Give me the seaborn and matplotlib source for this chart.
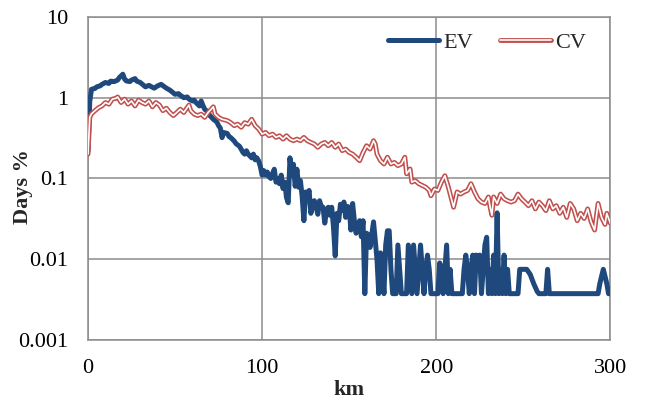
import numpy as np
import pandas as pd
import seaborn as sns
import matplotlib
matplotlib.use("Agg")
import matplotlib.pyplot as plt
from matplotlib import font_manager
from matplotlib.legend_handler import HandlerTuple
from matplotlib.ticker import FixedLocator, FixedFormatter, NullLocator

# ---- data ----
ev_km = [0, 1, 2, 4, 5, 7, 8, 10, 12, 13, 15, 17, 18, 20, 21, 22, 24, 25, 27, 28,
         30, 32, 33, 35, 36, 38, 40, 42, 44, 45, 47, 48, 50, 52, 53, 55, 57, 58, 60, 61,
         62, 64, 65, 66, 67, 69, 70, 72, 74, 75, 76, 77, 78, 80, 81, 82, 84, 85, 87, 88,
         89, 90, 91, 92, 93, 94, 95, 96, 97, 98, 99, 100, 101, 102, 103, 104, 105, 106, 107, 108,
         109, 110, 111, 112, 113, 114, 115, 116, 117, 118, 119, 120, 121, 122, 123, 124, 125, 126, 127, 128,
         129, 130, 131, 132, 133, 134, 135, 136, 137, 138, 139, 140, 141, 142, 143, 144, 145, 146, 147, 148,
         149, 150, 151, 152, 153, 154, 155, 156, 157, 158, 159, 160, 161, 162, 163, 164, 165, 166, 167, 168,
         169, 170, 171, 172, 173, 174, 175, 176, 177, 178, 179, 180, 181, 182, 183, 184, 185, 186, 187, 188,
         189, 190, 191, 192, 193, 194, 195, 196, 197, 198, 199, 200, 201, 202, 203, 204, 205, 206, 207, 208,
         209, 210, 212, 214, 215, 216, 217, 218, 219, 220, 221, 222, 223, 224, 225, 226, 227, 228, 229, 230,
         231, 232, 233, 234, 235, 236, 237, 238, 239, 240, 241, 242, 244, 246, 247, 248, 250, 252, 254, 256,
         258, 259, 261, 263, 264, 265, 268, 272, 276, 280, 284, 288, 292, 293, 294, 296, 298, 299, 300]
ev_val = [0.22, 0.9, 1.27, 1.3, 1.36, 1.4, 1.46, 1.54, 1.5, 1.6, 1.58, 1.65, 1.77, 1.95, 1.7, 1.61, 1.58, 1.65, 1.72, 1.6,
          1.54, 1.42, 1.36, 1.42, 1.38, 1.31, 1.4, 1.46, 1.36, 1.31, 1.24, 1.19, 1.1, 1.12, 1.07, 1.0, 1.02, 0.96, 0.91, 0.93,
          0.87, 0.79, 0.91, 0.8, 0.72, 0.66, 0.6, 0.54, 0.5, 0.45, 0.42, 0.32, 0.37, 0.36, 0.33, 0.32, 0.29, 0.27, 0.25, 0.23,
          0.21, 0.2, 0.22, 0.2, 0.19, 0.18, 0.2, 0.17, 0.18, 0.165, 0.14, 0.11, 0.125, 0.11, 0.12, 0.105, 0.1, 0.115, 0.13, 0.09,
          0.1, 0.086, 0.11, 0.075, 0.09, 0.058, 0.05, 0.18, 0.11, 0.15, 0.08, 0.13, 0.078, 0.094, 0.06, 0.03, 0.068, 0.06, 0.071, 0.037,
          0.045, 0.053, 0.045, 0.036, 0.053, 0.045, 0.044, 0.028, 0.04, 0.044, 0.035, 0.044, 0.025, 0.011, 0.037, 0.03, 0.048, 0.04, 0.051, 0.033,
          0.045, 0.044, 0.023, 0.049, 0.03, 0.021, 0.026, 0.03, 0.019, 0.03, 0.00375, 0.021, 0.02, 0.014, 0.02, 0.029, 0.017, 0.01, 0.00375, 0.012,
          0.0075, 0.00375, 0.015, 0.0225, 0.0225, 0.0075, 0.00375, 0.00375, 0.00375, 0.015, 0.0075, 0.00375, 0.00375, 0.00375, 0.00375, 0.015, 0.0075, 0.00375, 0.015, 0.0075,
          0.00375, 0.0075, 0.015, 0.0075, 0.00375, 0.0075, 0.01125, 0.0075, 0.00375, 0.00375, 0.00375, 0.00375, 0.00375, 0.009, 0.0075, 0.00375, 0.0075, 0.015, 0.00375, 0.0075,
          0.00375, 0.00375, 0.00375, 0.00375, 0.00375, 0.0075, 0.01125, 0.0075, 0.00375, 0.0075, 0.01125, 0.00375, 0.01125, 0.0075, 0.01125, 0.00375, 0.0075, 0.015, 0.0187, 0.00375,
          0.0075, 0.00375, 0.01125, 0.00375, 0.0375, 0.00375, 0.0075, 0.00375, 0.01125, 0.00375, 0.0075, 0.00375, 0.00375, 0.00375, 0.00375, 0.0075, 0.0075, 0.0075, 0.0065, 0.005,
          0.004, 0.00375, 0.00375, 0.00375, 0.0075, 0.00375, 0.00375, 0.00375, 0.00375, 0.00375, 0.00375, 0.00375, 0.00375, 0.00375, 0.005, 0.0075, 0.005, 0.00375, 0.00375]

cv_km = [0, 1, 2, 4, 6, 8, 10, 12, 14, 16, 17, 19, 21, 23, 25, 27, 29, 31, 33, 35,
         37, 39, 41, 43, 45, 47, 49, 51, 53, 55, 58, 59, 61, 63, 65, 67, 69, 72, 73, 75,
         77, 80, 82, 84, 86, 88, 90, 92, 94, 96, 98, 100, 102, 104, 106, 108, 110, 112, 114, 116,
         118, 120, 122, 124, 126, 128, 130, 132, 134, 136, 138, 140, 142, 144, 146, 148, 150, 152, 154, 156,
         158, 160, 162, 164, 165, 166, 168, 170, 172, 174, 176, 178, 180, 182, 183, 185, 186, 188, 190, 192,
         194, 196, 197, 199, 201, 203, 205, 207, 209, 210, 212, 214, 216, 218, 220, 222, 224, 226, 228, 230,
         231, 232, 233, 235, 237, 239, 241, 243, 245, 247, 249, 251, 253, 255, 257, 259, 261, 263, 265, 267,
         269, 271, 273, 275, 277, 279, 281, 283, 285, 287, 289, 291, 293, 295, 297, 298, 300]
cv_val = [0.2, 0.57, 0.63, 0.69, 0.75, 0.79, 0.87, 0.83, 0.96, 0.98, 1.02, 0.87, 0.96, 0.83, 0.91, 0.79, 0.93, 0.87, 0.83, 0.91,
          0.77, 0.87, 0.81, 0.69, 0.74, 0.655, 0.6, 0.655, 0.72, 0.655, 0.81, 0.69, 0.625, 0.6, 0.625, 0.57, 0.655, 0.77, 0.625, 0.57,
          0.54, 0.52, 0.49, 0.45, 0.47, 0.43, 0.49, 0.47, 0.54, 0.45, 0.41, 0.354, 0.371, 0.338, 0.354, 0.322, 0.338, 0.307, 0.338, 0.307,
          0.293, 0.307, 0.293, 0.322, 0.293, 0.279, 0.267, 0.243, 0.267, 0.279, 0.254, 0.279, 0.243, 0.267, 0.221, 0.231, 0.21, 0.2, 0.183, 0.166,
          0.21, 0.254, 0.231, 0.293, 0.267, 0.2, 0.166, 0.151, 0.183, 0.151, 0.158, 0.144, 0.151, 0.183, 0.114, 0.131, 0.09, 0.094, 0.086, 0.082,
          0.078, 0.071, 0.061, 0.074, 0.071, 0.09, 0.108, 0.078, 0.053, 0.044, 0.068, 0.064, 0.068, 0.071, 0.086, 0.068, 0.056, 0.051, 0.049, 0.059,
          0.044, 0.035, 0.059, 0.049, 0.064, 0.056, 0.053, 0.051, 0.053, 0.064, 0.056, 0.051, 0.046, 0.053, 0.042, 0.051, 0.046, 0.04, 0.053, 0.042,
          0.046, 0.037, 0.044, 0.033, 0.049, 0.042, 0.03, 0.037, 0.032, 0.042, 0.029, 0.023, 0.049, 0.033, 0.027, 0.037, 0.028]

x_ticks = [0, 100, 200, 300]
y_ticks = [0.001, 0.01, 0.1, 1, 10]
y_tick_labels = ["0.001", "0.01", "0.1", "1", "10"]

ev_df = pd.DataFrame({"km": ev_km, "val": ev_val})
cv_df = pd.DataFrame({"km": cv_km, "val": cv_val})

# ---- style ----
sns.set_style("white")


def pick_serif():
    names = {f.name for f in font_manager.fontManager.ttflist}
    for cand in ["Liberation Serif", "Times New Roman", "Nimbus Roman",
                 "Nimbus Roman No9 L", "TeX Gyre Termes", "Tinos", "FreeSerif"]:
        if cand in names:
            return cand
    for n in sorted(names):
        if "Liberation" in n and "Serif" in n:
            return n
    for n in sorted(names):
        if "Times" in n or "Roman" in n:
            return n
    return "DejaVu Serif"


SERIF = pick_serif()
plt.rcParams["font.family"] = [SERIF, "DejaVu Serif"]
plt.rcParams["font.size"] = 16

EV_COLOR = "#1F497D"
CV_COLOR = "#C0504D"
GRID = "#8C8C8C"

fig = plt.figure(figsize=(6.52, 4.01), dpi=100)
ax = fig.add_axes([0.135, 0.152, 0.801, 0.806])

sns.lineplot(data=ev_df, x="km", y="val", ax=ax, color=EV_COLOR, linewidth=3.6,
             solid_joinstyle="round", solid_capstyle="round", zorder=3)
sns.lineplot(data=cv_df, x="km", y="val", ax=ax, color=CV_COLOR, linewidth=3.5,
             solid_joinstyle="round", zorder=4)
sns.lineplot(data=cv_df, x="km", y="val", ax=ax, color="white", linewidth=1.2,
             solid_joinstyle="round", zorder=5)

ax.set_yscale("log")
ax.set_xlim(0, 300)
ax.set_ylim(0.001, 10)
ax.xaxis.set_major_locator(FixedLocator(x_ticks))
ax.yaxis.set_major_locator(FixedLocator(y_ticks))
ax.yaxis.set_major_formatter(FixedFormatter(y_tick_labels))
ax.yaxis.set_minor_locator(NullLocator())

ax.grid(True, color=GRID, linewidth=1.1, zorder=0)
ax.set_axisbelow(True)
for sp in ax.spines.values():
    sp.set_color(GRID)
    sp.set_linewidth(1.1)

ax.tick_params(axis="both", which="major", direction="out", length=4.5, width=1.1,
               color=GRID, labelsize=16, labelcolor="black")
ax.tick_params(axis="x", pad=9)
ax.tick_params(axis="y", pad=10)

ax.set_xlabel("km", fontsize=16, fontweight="bold")
ax.set_ylabel("Days %", fontsize=16, fontweight="bold")
ax.xaxis.set_label_coords(0.5, -0.124)
ax.yaxis.set_label_coords(-0.105, 0.474)

lines = ax.get_lines()
handles = [lines[0], (lines[1], lines[2])]
ax.legend(handles, ["EV", "CV"], handler_map={tuple: HandlerTuple(ndivide=1)},
          loc="center right", bbox_to_anchor=(0.975, 0.92), ncol=2, frameon=False,
          handlelength=2.3, handletextpad=0.2, columnspacing=1.2, borderpad=0,
          fontsize=16)

fig.savefig("out.png", dpi=100)
